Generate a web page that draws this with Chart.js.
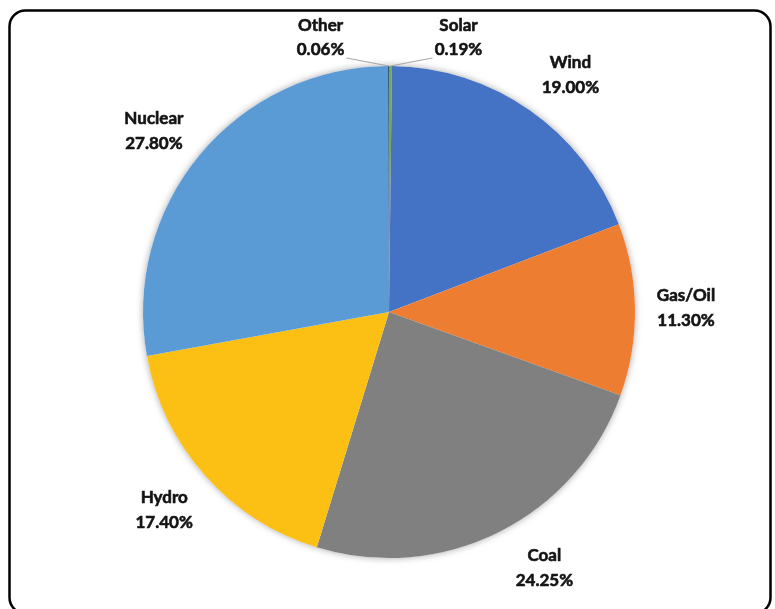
<!DOCTYPE html>
<html>
<head>
<meta charset="utf-8">
<script src="https://cdn.jsdelivr.net/npm/chart.js@4/dist/chart.umd.min.js"></script>
<style>
  html, body { margin: 0; padding: 0; background: #ffffff; }
  #wrap { width: 775px; height: 609px; position: relative; }
</style>
</head>
<body>
<div id="wrap"><canvas id="c" width="775" height="609"></canvas></div>
<script>
const categories = ["Solar", "Wind", "Gas/Oil", "Coal", "Hydro", "Nuclear", "Other"];
const shares = [0.19, 19.00, 11.30, 24.25, 17.40, 27.80, 0.06];
const percentLabels = ["0.19%", "19.00%", "11.30%", "24.25%", "17.40%", "27.80%", "0.06%"];
const sliceColors = ["#70AD47", "#4472C4", "#ED7D31", "#808080", "#FCBF14", "#5B9BD5", "#264478"];

const FONT = "bold 17px Lato, 'Open Sans', sans-serif";
const TEXT = "#141414";
// fine placement nudges for the outside labels (style only)
const labelNudge = { "Wind": [11, 7], "Nuclear": [-6, 10], "Coal": [22, -10], "Gas/Oil": [-1, -1], "Hydro": [-2, 0] };

const framePlugin = {
  id: 'frame',
  beforeDraw(chart) {
    const ctx = chart.ctx;
    ctx.save();
    ctx.fillStyle = '#ffffff';
    ctx.fillRect(0, 0, chart.width, chart.height);
    ctx.beginPath();
    ctx.lineWidth = 2.5;
    ctx.strokeStyle = '#000000';
    ctx.roundRect(9.5, 10.5, 761, 603, 16);
    ctx.stroke();
    ctx.restore();
  }
};

const shadowPlugin = {
  id: 'pieShadow',
  beforeDatasetsDraw(chart) {
    const arc = chart.getDatasetMeta(0).data[0];
    if (!arc) return;
    const ctx = chart.ctx;
    ctx.save();
    ctx.beginPath();
    ctx.arc(arc.x, arc.y, arc.outerRadius, 0, Math.PI * 2);
    ctx.fillStyle = '#ffffff';
    ctx.shadowColor = 'rgba(0,0,0,0.35)';
    ctx.shadowBlur = 7;
    ctx.fill();
    ctx.restore();
  }
};

function boldText(ctx, s, x, y) {
  ctx.fillText(s, x, y);
  ctx.strokeText(s, x, y);
}

const labelPlugin = {
  id: 'outLabels',
  afterDatasetsDraw(chart) {
    const ctx = chart.ctx;
    const meta = chart.getDatasetMeta(0);
    ctx.save();
    ctx.font = FONT;
    ctx.fillStyle = TEXT;
    ctx.strokeStyle = TEXT;
    ctx.lineWidth = 0.6;
    ctx.textAlign = 'center';
    ctx.textBaseline = 'middle';
    meta.data.forEach((arc, i) => {
      const p = arc.getProps(['x', 'y', 'startAngle', 'endAngle', 'outerRadius'], true);
      const mid = (p.startAngle + p.endAngle) / 2;
      if (shares[i] < 1) {
        const ox = p.x + Math.cos(mid) * p.outerRadius;
        const oy = p.y + Math.sin(mid) * p.outerRadius;
        const dir = i === 0 ? 1 : -1;
        const ex = ox + dir * 42;
        const ey = oy - 8;
        ctx.save();
        ctx.beginPath();
        ctx.strokeStyle = '#A6A6A6';
        ctx.lineWidth = 1;
        ctx.moveTo(ox, oy);
        ctx.lineTo(ex, ey);
        ctx.stroke();
        ctx.restore();
        const cx = ex + dir * 26;
        boldText(ctx, categories[i], cx, ey - 32);
        boldText(ctx, percentLabels[i], cx, ey - 8);
      } else {
        const d = p.outerRadius + 52;
        const n = labelNudge[categories[i]] || [0, 0];
        const cx = p.x + Math.cos(mid) * d + n[0];
        const cy = p.y + Math.sin(mid) * d + n[1];
        boldText(ctx, categories[i], cx, cy - 12.5);
        boldText(ctx, percentLabels[i], cx, cy + 12.5);
      }
    });
    ctx.restore();
  }
};

new Chart(document.getElementById('c'), {
  type: 'pie',
  data: {
    labels: categories,
    datasets: [{
      data: shares,
      backgroundColor: sliceColors,
      borderWidth: 0,
      borderColor: 'rgba(0,0,0,0)'
    }]
  },
  options: {
    responsive: false,
    animation: false,
    rotation: 0,
    layout: { padding: { top: 66, bottom: 51, left: 100, right: 97 } },
    plugins: {
      legend: { display: false },
      tooltip: { enabled: false },
      title: { display: false }
    }
  },
  plugins: [framePlugin, shadowPlugin, labelPlugin]
});
</script>
</body>
</html>
